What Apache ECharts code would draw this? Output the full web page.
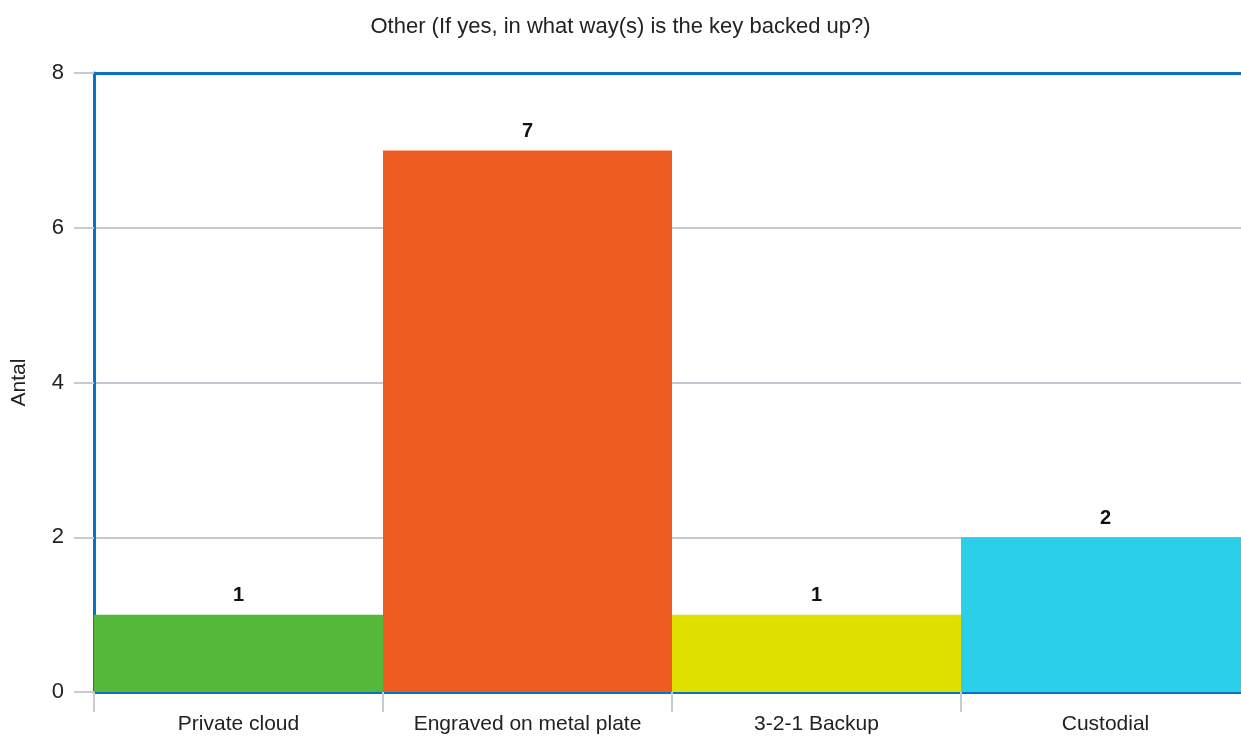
<!DOCTYPE html>
<html>
<head>
<meta charset="utf-8">
<script src="https://cdn.jsdelivr.net/npm/echarts@6/dist/echarts.min.js"></script>
<style>
  html, body { margin: 0; padding: 0; background: #fff; }
  #chart { width: 1241px; height: 736px; }
</style>
</head>
<body>
<div id="chart"></div>
<script>
// Backup methods and their counts
const categories = ['Private cloud', 'Engraved on metal plate', '3-2-1 Backup', 'Custodial'];
const counts = [1, 7, 1, 2];
const barColors = ['#56b83a', '#ee5c22', '#dfe000', '#2bcfe8'];
const yTicks = [0, 2, 4, 6, 8];

const FONT = '"Liberation Sans", Arial, sans-serif';
const FRAME = '#0a72c2';
const GRAY = '#c4cbd6';

const chart = echarts.init(document.getElementById('chart'));
chart.setOption({
  animation: false,
  title: {
    text: 'Other (If yes, in what way(s) is the key backed up?)',
    left: 'center',
    top: 11,
    textStyle: { fontFamily: FONT, fontSize: 22, fontWeight: 'normal', color: '#222' }
  },
  grid: {
    left: 94,
    top: 73,
    right: -9,
    bottom: 44,
    containLabel: false,
    outerBoundsMode: 'none'
  },
  xAxis: [{
    type: 'category',
    data: categories,
    axisLine: { show: true, lineStyle: { color: FRAME, width: 3 } },
    axisTick: { show: true, interval: 0, length: 20, lineStyle: { color: GRAY, width: 2 } },
    axisLabel: { interval: 0, fontFamily: FONT, fontSize: 21, color: '#222', margin: 22 }
  }, {
    // top frame edge
    type: 'category',
    position: 'top',
    data: categories,
    axisLine: { show: true, lineStyle: { color: FRAME, width: 3 } },
    axisTick: { show: false },
    axisLabel: { show: false }
  }],
  yAxis: {
    type: 'value',
    min: yTicks[0],
    max: yTicks[yTicks.length - 1],
    interval: 2,
    name: 'Antal',
    nameLocation: 'middle',
    nameGap: 64,
    nameTextStyle: { fontFamily: FONT, fontSize: 21, color: '#222' },
    axisLine: { show: true, lineStyle: { color: FRAME, width: 3 } },
    axisTick: { show: true, length: 20, lineStyle: { color: GRAY, width: 2 } },
    axisLabel: { fontFamily: FONT, fontSize: 22, color: '#222', margin: 30 },
    splitLine: { show: true, showMinLine: false, showMaxLine: false, lineStyle: { color: '#c4c8d0', width: 2 } }
  },
  series: [{
    type: 'bar',
    barCategoryGap: '0%',
    data: counts.map((v, i) => ({ value: v, itemStyle: { color: barColors[i] } })),
    label: {
      show: true,
      position: 'top',
      distance: 9,
      fontFamily: FONT,
      fontSize: 20,
      fontWeight: 'bold',
      color: '#111'
    }
  }]
});
</script>
</body>
</html>
